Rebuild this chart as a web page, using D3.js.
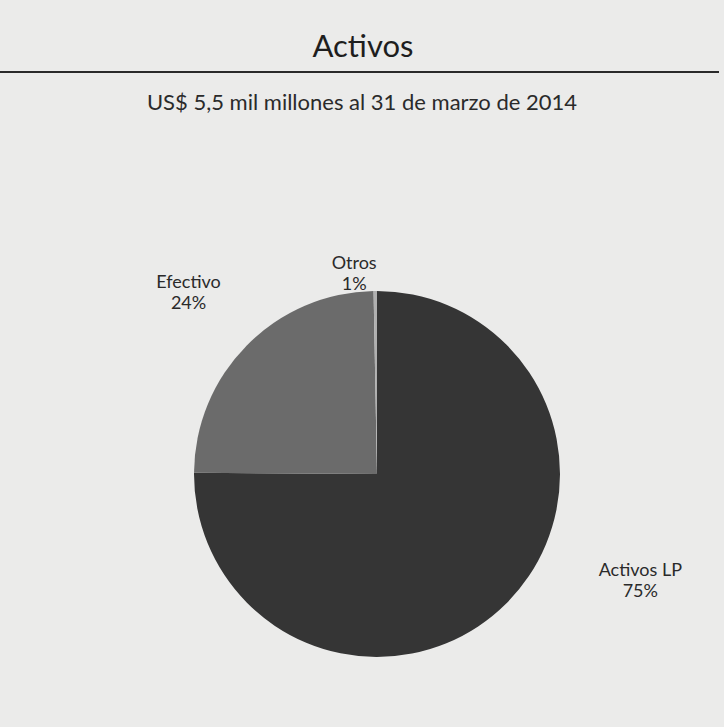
<!DOCTYPE html>
<html><head><meta charset="utf-8">
<script src="https://cdn.jsdelivr.net/npm/d3@7/dist/d3.min.js"></script>
<style>body{margin:0;background:#ebebea;}svg{display:block;}</style>
</head><body>
<svg id="chart" width="724" height="727"></svg>
<script>
const categories = ["Activos LP", "Efectivo", "Otros"];
const values = [75.1, 24.6, 0.3];
const percentLabels = ["75%", "24%", "1%"];
const colors = ["#353535", "#6b6b6b", "#b0b0b0"];
const titleText = "Activos";
const subtitleText = "US$ 5,5 mil millones al 31 de marzo de 2014";

const svg = d3.select("#chart");
const W = 724, H = 727;
const font = "Lato, 'Open Sans', sans-serif";

svg.append("rect").attr("width", W).attr("height", H).attr("fill", "#ebebea");

svg.append("text").attr("x", 363).attr("y", 57).attr("text-anchor", "middle")
  .attr("font-family", font).attr("font-size", 31).attr("fill", "#1e1e1e").text(titleText);
svg.append("line").attr("x1", 0).attr("x2", 719).attr("y1", 72).attr("y2", 72)
  .attr("stroke", "#2a2a2a").attr("stroke-width", 2.2);
svg.append("text").attr("x", 362).attr("y", 110).attr("text-anchor", "middle")
  .attr("font-family", font).attr("font-size", 22).attr("fill", "#2a2a2a").text(subtitleText);

const cx = 377, cy = 474, r = 183;
const pie = d3.pie().sort(null).value(d => d)(values);
const arc = d3.arc().innerRadius(0).outerRadius(r);
const g = svg.append("g").attr("transform", `translate(${cx},${cy})`);
g.selectAll("path").data(pie).join("path")
  .attr("d", arc).attr("fill", (d, i) => colors[i]);

// label placement (angle in degrees clockwise from top, distance from centre)
const labelPolar = [[112, 284], [-46, 262], [-6.5, 202]];
categories.forEach((c, i) => {
  const a = labelPolar[i][0] * Math.PI / 180, d = labelPolar[i][1];
  const x = cx + Math.sin(a) * d, y = cy - Math.cos(a) * d;
  const t = svg.append("text").attr("text-anchor", "middle")
    .attr("font-family", font).attr("font-size", 18).attr("fill", "#2a2a2a");
  t.append("tspan").attr("x", x).attr("y", y - 4).text(c);
  t.append("tspan").attr("x", x).attr("y", y + 17).text(percentLabels[i]);
});
</script>
</body></html>
